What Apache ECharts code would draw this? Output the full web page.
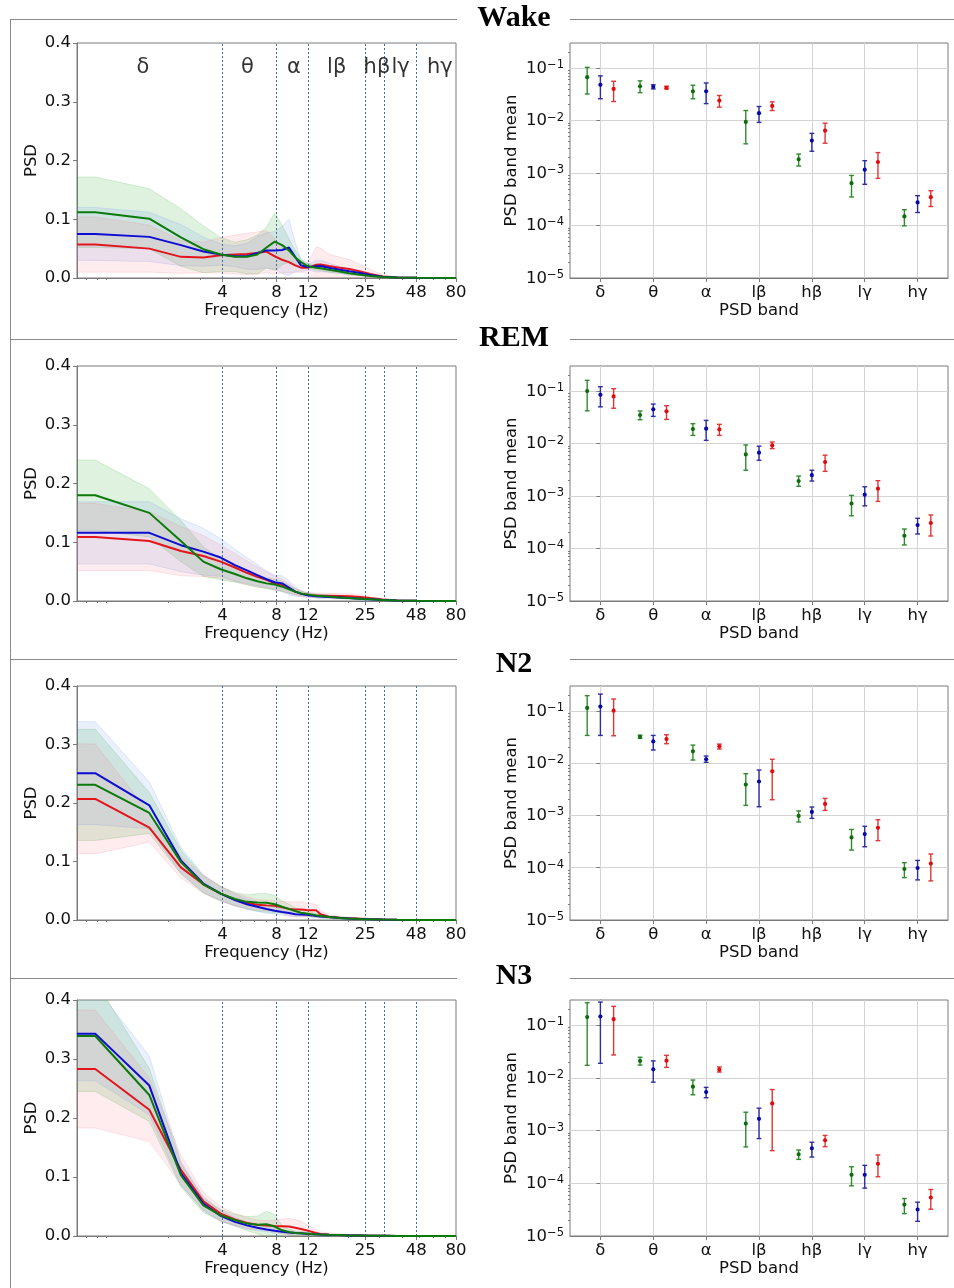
<!DOCTYPE html>
<html><head><meta charset="utf-8">
<script src="https://cdn.jsdelivr.net/npm/echarts@6/dist/echarts.min.js"></script>
<style>html,body{margin:0;padding:0;background:#fff}#c{width:954px;height:1288px}</style>
</head><body><div id="c"></div>
<script>
// ---------- shared axes / labels ----------
const freqHz = [0.618, 0.781, 1.563, 2.344, 3.125, 3.906, 4.688, 5.469, 6.25, 7.031, 7.813, 8.594, 9.375, 10.156, 10.938, 11.719, 12.5, 13.281, 14.063, 15.625, 17.969, 20.313, 23.438, 26.563, 31.25, 37.5, 48, 80];
const freqTickLabels = [4, 8, 12, 25, 48, 80];
const freqMinorTicks = [0.7, 0.8, 0.9, 2, 3, 5, 6, 7, 9, 20, 30, 40, 50, 60, 70];
const bandEdgesHz = [4, 8, 12, 25, 32, 48];
const bandNames = ['δ', 'θ', 'α', 'lβ', 'hβ', 'lγ', 'hγ'];
const bandLabelHz = [1.44, 5.5, 10, 17.3, 29, 39.3, 65];
const psdTicks = [0, 0.1, 0.2, 0.3, 0.4];
const decadeTicks = [1e-5, 1e-4, 1e-3, 1e-2, 1e-1];
const stageNames = ['Wake', 'REM', 'N2', 'N3'];

// ---------- PSD curves (mean, std) ----------
const wakeGreenPsd = [.112,.112,.101,.069,.049,.040,.036,.036,.040,.052,.062,.056,.047,.035,.027,.0215,.019,.0176,.0165,.014,.011,.008,.0057,.0034,.0015,.0008,.0003,.0001];
const wakeGreenStd = [.060,.060,.051,.049,.040,.029,.025,.029,.033,.035,.049,.034,.020,.012,.006,.004,.004,.004,.004,.004,.003,.003,.002,.0015,.001,.0005,.0002,.0001];
const wakeBluePsd = [.075,.075,.070,.056,.045,.040,.037,.037,.0425,.047,.047,.0477,.052,.036,.0215,.019,.019,.020,.0205,.0176,.014,.0113,.0085,.005,.002,.001,.0004,.0001];
const wakeBlueStd = [.045,.045,.042,.035,.025,.018,.018,.022,.028,.030,.032,.040,.048,.025,.010,.006,.006,.010,.010,.008,.006,.005,.004,.003,.001,.0005,.0002,.0001];
const wakeRedPsd = [.057,.057,.050,.036,.035,.0386,.040,.041,.0425,.045,.037,.031,.027,.0215,.0176,.0176,.019,.0227,.023,.0205,.0176,.0153,.0113,.0068,.0025,.001,.0004,.0001];
const wakeRedStd = [.047,.047,.040,.028,.026,.030,.033,.035,.036,.036,.030,.022,.018,.012,.008,.008,.018,.030,.028,.020,.018,.016,.012,.008,.003,.001,.0004,.0001];

const remGreenPsd = [.180,.180,.150,.102,.067,.054,.046,.0386,.0335,.030,.028,.0244,.020,.016,.013,.0113,.010,.009,.0085,.0075,.006,.005,.004,.003,.0015,.0007,.0003,.0001];
const remGreenStd = [.060,.060,.041,.035,.025,.018,.014,.011,.010,.009,.009,.009,.007,.005,.004,.003,.003,.003,.003,.002,.002,.002,.002,.0015,.001,.0005,.0002,.0001];
const remBluePsd = [.116,.116,.116,.095,.084,.074,.061,.052,.044,.037,.032,.030,.023,.016,.0125,.010,.009,.008,.0075,.007,.006,.005,.004,.003,.0015,.0007,.0003,.0001];
const remBlueStd = [.053,.053,.053,.045,.040,.032,.027,.022,.018,.014,.012,.013,.012,.008,.005,.004,.003,.003,.003,.002,.002,.002,.002,.0015,.001,.0005,.0002,.0001];
const remRedPsd = [.109,.109,.102,.085,.0766,.067,.057,.048,.041,.036,.030,.027,.0216,.016,.0125,.011,.010,.0095,.009,.009,.0085,.008,.007,.005,.0025,.001,.0003,.0001];
const remRedStd = [.057,.057,.050,.042,.035,.028,.024,.020,.017,.014,.012,.010,.008,.006,.005,.004,.004,.004,.004,.004,.004,.004,.003,.002,.001,.0005,.0002,.0001];

const n2GreenPsd = [.231,.231,.183,.099,.061,.045,.036,.031,.030,.0295,.027,.0227,.019,.0153,.0125,.011,.0096,.008,.007,.005,.0035,.0025,.0018,.0012,.0007,.0004,.0002,.0001];
const n2GreenStd = [.095,.095,.035,.020,.015,.012,.011,.012,.015,.016,.015,.010,.008,.006,.005,.004,.004,.003,.003,.002,.002,.0015,.001,.0008,.0005,.0003,.0002,.0001];
const n2BluePsd = [.251,.251,.196,.102,.0624,.045,.034,.027,.0227,.0187,.0159,.0136,.012,.010,.0096,.009,.008,.007,.006,.005,.0035,.0025,.0018,.0012,.0007,.0004,.0002,.0001];
const n2BlueStd = [.088,.088,.040,.022,.015,.012,.010,.009,.008,.007,.006,.005,.005,.004,.004,.003,.003,.003,.003,.002,.002,.0015,.001,.0008,.0005,.0003,.0002,.0001];
const n2RedPsd = [.207,.207,.158,.090,.061,.045,.035,.0295,.026,.025,.0244,.0216,.019,.018,.018,.017,.0165,.0165,.010,.0057,.004,.003,.0022,.0015,.0009,.0005,.0002,.0001];
const n2RedStd = [.094,.094,.025,.018,.015,.013,.011,.010,.009,.009,.009,.010,.012,.013,.013,.012,.012,.010,.006,.003,.002,.0015,.001,.0008,.0005,.0003,.0002,.0001];

const n3GreenPsd = [.339,.339,.239,.103,.052,.035,.027,.021,.019,.020,.016,.0096,.0068,.005,.0045,.004,.0034,.003,.0025,.002,.0015,.001,.0008,.0006,.0004,.0002,.0001,.00005];
const n3GreenStd = [.094,.094,.045,.020,.012,.010,.010,.012,.015,.022,.020,.008,.005,.004,.003,.003,.003,.002,.002,.0015,.001,.001,.001,.001,.001,.001,.001,.001];
const n3BluePsd = [.343,.343,.255,.106,.055,.034,.024,.018,.014,.011,.009,.0074,.006,.005,.0045,.004,.0034,.003,.0025,.002,.0015,.001,.0008,.0006,.0004,.0002,.0001,.00005];
const n3BlueStd = [.080,.080,.050,.020,.012,.009,.007,.006,.005,.004,.004,.003,.003,.002,.002,.002,.002,.002,.0015,.001,.001,.001,.0008,.0006,.0004,.0002,.0001,.00005];
const n3RedPsd = [.283,.283,.214,.112,.059,.038,.028,.022,.019,.018,.017,.0165,.016,.014,.012,.0096,.0074,.005,.0034,.0023,.0017,.0012,.0009,.0006,.0004,.0002,.0001,.00005];
const n3RedStd = [.100,.100,.054,.025,.015,.012,.010,.009,.008,.008,.010,.012,.014,.014,.013,.010,.008,.006,.004,.003,.002,.0015,.001,.0008,.0005,.0003,.0002,.0001];

// ---------- PSD band means (mean, lower, upper) ----------
const wakeGreenMean = [0.067, 0.045, 0.036, 0.0094, 0.00182, 0.00064, 0.000149];
const wakeGreenLo   = [0.032, 0.034, 0.026, 0.0036, 0.00136, 0.00035, 0.0000986];
const wakeGreenHi   = [0.103, 0.057, 0.047, 0.0155, 0.0023, 0.0009, 0.0002];
const wakeBlueMean  = [0.048, 0.044, 0.036, 0.0138, 0.00415, 0.00116, 0.000275];
const wakeBlueLo    = [0.026, 0.040, 0.021, 0.0092, 0.0026, 0.00061, 0.000177];
const wakeBlueHi    = [0.071, 0.048, 0.052, 0.0185, 0.0057, 0.00172, 0.00037];
const wakeRedMean   = [0.040, 0.042, 0.024, 0.019, 0.0064, 0.00162, 0.000347];
const wakeRedLo     = [0.023, 0.040, 0.018, 0.0155, 0.0037, 0.00079, 0.00023];
const wakeRedHi     = [0.056, 0.045, 0.030, 0.0227, 0.0089, 0.00245, 0.00046];

const remGreenMean = [0.100, 0.035, 0.0189, 0.0062, 0.00193, 0.00072, 0.000175];
const remGreenLo   = [0.042, 0.0284, 0.0143, 0.0031, 0.00153, 0.00042, 0.000117];
const remGreenHi   = [0.160, 0.0416, 0.0239, 0.0094, 0.0024, 0.00103, 0.000235];
const remBlueMean  = [0.085, 0.0448, 0.0192, 0.0067, 0.0025, 0.00106, 0.00028];
const remBlueLo    = [0.050, 0.0329, 0.0115, 0.0048, 0.00193, 0.00065, 0.000189];
const remBlueHi    = [0.121, 0.0565, 0.0276, 0.0089, 0.0031, 0.0015, 0.000376];
const remRedMean   = [0.079, 0.041, 0.0186, 0.0092, 0.00445, 0.00138, 0.000306];
const remRedLo     = [0.047, 0.0288, 0.0143, 0.008, 0.00295, 0.00079, 0.000173];
const remRedHi     = [0.111, 0.0526, 0.0232, 0.0107, 0.006, 0.00196, 0.000435];

const n2GreenMean = [0.114, 0.032, 0.0169, 0.0039, 0.00098, 0.00038, 0.0000946];
const n2GreenLo   = [0.034, 0.0298, 0.0115, 0.00156, 0.00075, 0.000218, 0.0000647];
const n2GreenHi   = [0.196, 0.0344, 0.0222, 0.0063, 0.00122, 0.00054, 0.000125];
const n2BlueMean  = [0.121, 0.0261, 0.0119, 0.00447, 0.00117, 0.00044, 0.0000988];
const n2BlueLo    = [0.034, 0.0179, 0.0104, 0.00147, 0.00088, 0.000252, 0.0000585];
const n2BlueHi    = [0.210, 0.034, 0.0137, 0.0074, 0.00145, 0.00062, 0.000138];
const n2RedMean   = [0.101, 0.0289, 0.021, 0.007, 0.00166, 0.00058, 0.00012];
const n2RedLo     = [0.0335, 0.0236, 0.0187, 0.002, 0.00125, 0.00033, 0.000056];
const n2RedHi     = [0.169, 0.035, 0.0232, 0.0119, 0.00212, 0.00083, 0.000183];

const n3GreenMean = [0.142, 0.021, 0.0068, 0.00136, 0.000354, 0.000145, 0.0000395];
const n3GreenLo   = [0.0173, 0.0175, 0.00478, 0.00049, 0.000284, 0.0000895, 0.0000266];
const n3GreenHi   = [0.266, 0.0246, 0.0091, 0.00223, 0.000428, 0.000206, 0.0000514];
const n3BlueMean  = [0.146, 0.0145, 0.00537, 0.00167, 0.00046, 0.000145, 0.0000318];
const n3BlueLo    = [0.0189, 0.0083, 0.0042, 0.000705, 0.000315, 0.000081, 0.000019];
const n3BlueHi    = [0.274, 0.021, 0.0066, 0.00266, 0.0006, 0.000219, 0.0000438];
const n3RedMean   = [0.130, 0.0212, 0.0143, 0.00327, 0.000655, 0.000235, 0.0000537];
const n3RedLo     = [0.0272, 0.0158, 0.0129, 0.000416, 0.000495, 0.000133, 0.0000322];
const n3RedHi     = [0.227, 0.0268, 0.0161, 0.006, 0.00081, 0.000344, 0.0000763];

// ---------- assemble ----------
const curves = [
  {green:[wakeGreenPsd, wakeGreenStd], blue:[wakeBluePsd, wakeBlueStd], red:[wakeRedPsd, wakeRedStd]},
  {green:[remGreenPsd, remGreenStd], blue:[remBluePsd, remBlueStd], red:[remRedPsd, remRedStd]},
  {green:[n2GreenPsd, n2GreenStd], blue:[n2BluePsd, n2BlueStd], red:[n2RedPsd, n2RedStd]},
  {green:[n3GreenPsd, n3GreenStd], blue:[n3BluePsd, n3BlueStd], red:[n3RedPsd, n3RedStd]}
];
const bandStats = [
  {green:[wakeGreenMean, wakeGreenLo, wakeGreenHi], blue:[wakeBlueMean, wakeBlueLo, wakeBlueHi], red:[wakeRedMean, wakeRedLo, wakeRedHi]},
  {green:[remGreenMean, remGreenLo, remGreenHi], blue:[remBlueMean, remBlueLo, remBlueHi], red:[remRedMean, remRedLo, remRedHi]},
  {green:[n2GreenMean, n2GreenLo, n2GreenHi], blue:[n2BlueMean, n2BlueLo, n2BlueHi], red:[n2RedMean, n2RedLo, n2RedHi]},
  {green:[n3GreenMean, n3GreenLo, n3GreenHi], blue:[n3BlueMean, n3BlueLo, n3BlueHi], red:[n3RedMean, n3RedLo, n3RedHi]}
];

const FONT = 'DejaVu Sans';
const AX = '#7a7a7a';
const GRIDC = '#d4d4d4';
const LINE_C = {green:'#0b7a0b', blue:'#0c0cd2', red:'#e3141c'};
const FILL_C = {green:'rgba(40,170,40,0.15)', blue:'rgba(90,140,235,0.13)', red:'rgba(250,110,130,0.13)'};
const EDGE_C = {green:'rgba(40,170,40,0.22)', blue:'rgba(90,140,235,0.22)', red:'rgba(250,110,130,0.22)'};
const ERR_C = {green:'#2f8a2f', blue:'#2e2ea0', red:'#e23434'};
const DOT_C = {green:'#0d6d0d', blue:'#0808a8', red:'#e00c0c'};
const OFFS = {green:-0.25, blue:0, red:0.25};
const ROWS = [
  {top:43, h:235, lineY:19, titleY:18},
  {top:366, h:235, lineY:339, titleY:338},
  {top:686, h:234, lineY:659, titleY:664},
  {top:1000, h:236, lineY:978, titleY:976}
];
const bandIdx = bandNames.map((b, i) => i);
const yMinor = [];
for (let e = -5; e <= -1; e++) for (let k = 2; k <= 9; k++) { const v = k * Math.pow(10, e); if (v <= 0.3) yMinor.push(v); }

function errRender(g) {
  return function (params, api) {
    const x = api.value(0), m = api.value(1), lo = api.value(2), hi = api.value(3);
    const pt = api.coord([x, hi]), pb = api.coord([x, lo]), pm = api.coord([x, m]);
    const cw = 2.4;
    const ls = {stroke: ERR_C[g], lineWidth: 1.4};
    return {type:'group', children:[
      {type:'line', shape:{x1:pt[0], y1:pt[1], x2:pb[0], y2:pb[1]}, style:ls},
      {type:'line', shape:{x1:pt[0]-cw, y1:pt[1], x2:pt[0]+cw, y2:pt[1]}, style:ls},
      {type:'line', shape:{x1:pb[0]-cw, y1:pb[1], x2:pb[0]+cw, y2:pb[1]}, style:ls},
      {type:'circle', shape:{cx:pm[0], cy:pm[1], r:2.1}, style:{fill:DOT_C[g]}}
    ]};
  };
}

// shaded mean ± std band, drawn as one polygon through the axes' scales
function bandRender(g) {
  return function (params, api) {
    if (params.dataIndex !== 0) return null;
    const n = params.dataInsideLength || 0;
    const data = params.context.rows;
    const up = [], dn = [];
    for (let i = 0; i < data.length; i++) {
      up.push(api.coord([data[i][0], data[i][2]]));
      dn.push(api.coord([data[i][0], data[i][1]]));
    }
    const pts = up.concat(dn.reverse());
    const cs = params.coordSys;
    return {type:'group',
      clipPath:{type:'rect', shape:{x:cs.x, y:cs.y, width:cs.width, height:cs.height}},
      children:[{type:'polygon', shape:{points:pts}, style:{fill:FILL_C[g], stroke:EDGE_C[g], lineWidth:0.8}}]};
  };
}

const grids = [], xAxes = [], yAxes = [], series = [], graphics = [];
const labelStyle = {fontSize:16.5, color:'#111', fontFamily:FONT};

graphics.push({type:'line', shape:{x1:10.5, y1:ROWS[0].lineY + 0.5, x2:10.5, y2:1288}, style:{stroke:'#8a8a8a', lineWidth:1}});

stageNames.forEach((stage, s) => {
  const row = ROWS[s];
  graphics.push({type:'line', shape:{x1:10, y1:row.lineY + 0.5, x2:457, y2:row.lineY + 0.5}, style:{stroke:'#8a8a8a', lineWidth:1}});
  graphics.push({type:'line', shape:{x1:570, y1:row.lineY + 0.5, x2:954, y2:row.lineY + 0.5}, style:{stroke:'#8a8a8a', lineWidth:1}});
  graphics.push({type:'text', x:514, y:row.titleY, style:{text:stage, font:'bold 30px "Liberation Serif"', fill:'#000', align:'center', verticalAlign:'middle'}});

  const gL = grids.length;
  grids.push({left:77, top:row.top, width:379, height:row.h, show:true, borderColor:AX, borderWidth:1, backgroundColor:'transparent'});
  const gR = grids.length;
  grids.push({left:570, top:row.top, width:378, height:row.h, show:true, borderColor:AX, borderWidth:1, backgroundColor:'transparent'});

  const xL = xAxes.length;
  xAxes.push({gridIndex:gL, type:'log', logBase:10, min:0.618, max:80, position:'bottom',
    name:'Frequency (Hz)', nameLocation:'middle', nameGap:24, nameTextStyle:labelStyle,
    axisLine:{show:true, lineStyle:{color:AX}},
    axisTick:{show:true, customValues:freqTickLabels, length:4, lineStyle:{color:AX}},
    axisLabel:{show:true, customValues:freqTickLabels, margin:6, ...labelStyle, formatter:v => String(Math.round(v))},
    splitLine:{show:false}});
  const xLm = xAxes.length;
  xAxes.push({gridIndex:gL, type:'log', logBase:10, min:0.618, max:80, position:'bottom', offset:0,
    axisLine:{show:false}, axisTick:{show:true, customValues:freqMinorTicks, length:2, lineStyle:{color:AX}},
    axisLabel:{show:false}, splitLine:{show:false}});
  const xR = xAxes.length;
  xAxes.push({gridIndex:gR, type:'value', min:-0.575, max:6.575, position:'bottom',
    name:'PSD band', nameLocation:'middle', nameGap:24, nameTextStyle:labelStyle,
    axisLine:{show:true, lineStyle:{color:AX}},
    axisTick:{show:true, customValues:bandIdx, length:4, lineStyle:{color:AX}},
    axisLabel:{show:true, customValues:bandIdx, margin:6, ...labelStyle, formatter:v => bandNames[Math.round(v)]},
    splitLine:{show:false}});

  const yL = yAxes.length;
  yAxes.push({gridIndex:gL, type:'value', min:0, max:0.4, interval:0.1, position:'left',
    name:'PSD', nameLocation:'middle', nameGap:37, nameTextStyle:labelStyle,
    axisLine:{show:true, lineStyle:{color:AX}},
    axisTick:{show:true, length:4, lineStyle:{color:AX}},
    axisLabel:{show:true, margin:6, ...labelStyle, formatter:v => v.toFixed(1)},
    splitLine:{show:false}});
  const yR = yAxes.length;
  yAxes.push({gridIndex:gR, type:'log', logBase:10, min:1e-5, max:0.3, position:'left',
    name:'PSD band mean', nameLocation:'middle', nameGap:50, nameTextStyle:labelStyle,
    axisLine:{show:true, lineStyle:{color:AX}},
    axisTick:{show:true, customValues:decadeTicks, length:4, lineStyle:{color:AX}},
    axisLabel:{show:true, customValues:decadeTicks, margin:6,
      formatter:v => '{b|10}{s|\u2212' + Math.abs(Math.round(Math.log10(v))) + '}',
      rich:{b:{fontSize:16.5, fontFamily:FONT, color:'#111', verticalAlign:'bottom', lineHeight:18},
            s:{fontSize:11.5, fontFamily:FONT, color:'#111', verticalAlign:'top', lineHeight:8}}},
    splitLine:{show:true, lineStyle:{color:GRIDC, width:1}}});
  const yRm = yAxes.length;
  yAxes.push({gridIndex:gR, type:'log', logBase:10, min:1e-5, max:0.3, position:'left', offset:0,
    axisLine:{show:false}, axisTick:{show:true, customValues:yMinor, length:2, lineStyle:{color:AX}},
    axisLabel:{show:false}, splitLine:{show:false}});

  // left panel: shaded std bands
  ['green', 'blue', 'red'].forEach(g => {
    const [m, sd] = curves[s][g];
    const rows = freqHz.map((f, i) => [f, m[i] - sd[i], m[i] + sd[i]]);
    series.push({type:'custom', xAxisIndex:xL, yAxisIndex:yL, silent:true, z:1,
      renderItem:(params, api) => { params.context.rows = rows; return bandRender(g)(params, api); },
      encode:{x:0, y:[1, 2]}, data:rows});
  });
  // left panel: mean curves
  ['red', 'blue', 'green'].forEach((g, k) => {
    const [m] = curves[s][g];
    const ser = {type:'line', xAxisIndex:xL, yAxisIndex:yL, symbol:'none', z:3, silent:true,
      lineStyle:{width:2, color:LINE_C[g]}, data:freqHz.map((f, i) => [f, m[i]])};
    if (k === 0) {
      ser.markLine = {silent:true, symbol:['none', 'none'], label:{show:false}, z:2,
        lineStyle:{color:'#3d6e9c', width:1, type:[2, 2]},
        data:bandEdgesHz.map(f => ({xAxis:f}))};
    }
    series.push(ser);
  });
  if (s === 0) {
    series.push({type:'scatter', xAxisIndex:xL, yAxisIndex:yL, symbolSize:0, silent:true, z:4,
      label:{show:true, position:'inside', formatter:'{b}', fontSize:21, color:'#000', fontFamily:FONT},
      data:bandLabelHz.map((f, i) => ({name:bandNames[i], value:[f, 0.358]}))});
  }

  // right panel: band means with error bars
  ['green', 'blue', 'red'].forEach((g, k) => {
    const [mean, lo, hi] = bandStats[s][g];
    const ser = {type:'custom', xAxisIndex:xR, yAxisIndex:yR, z:3, silent:true,
      renderItem:errRender(g), encode:{x:0, y:[1, 2, 3]},
      data:bandNames.map((b, i) => [i + OFFS[g], mean[i], lo[i], hi[i]])};
    if (k === 0) {
      ser.markLine = {silent:true, symbol:['none', 'none'], label:{show:false}, z:1,
        lineStyle:{color:GRIDC, width:1, type:'solid'},
        data:bandIdx.map(i => ({xAxis:i}))};
    }
    series.push(ser);
  });
});

const chart = echarts.init(document.getElementById('c'), null, {renderer:'canvas', width:954, height:1288});
chart.setOption({
  animation:false,
  backgroundColor:'#fff',
  textStyle:{fontFamily:FONT},
  grid:grids, xAxis:xAxes, yAxis:yAxes, series:series,
  graphic:{elements:graphics}
});
</script></body></html>
